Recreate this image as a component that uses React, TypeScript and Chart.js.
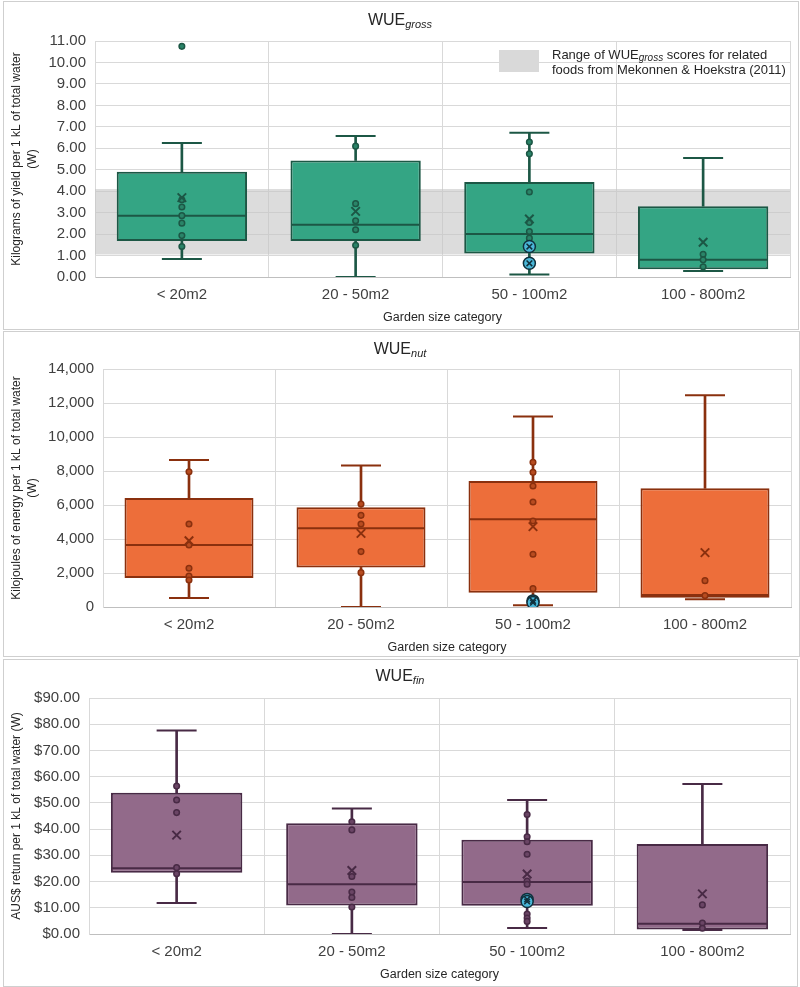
import React, { useEffect, useRef } from 'react';
import { Chart, registerables } from 'chart.js';

Chart.register(...registerables);

const FONT = "'Liberation Sans', Arial, sans-serif";

const CATEGORIES = ['< 20m2', '20 - 50m2', '50 - 100m2', '100 - 800m2'];
const X_TITLE = 'Garden size category';

// WUE gross (kg per kL)
const GROSS_MIN = [0.84, 0, 0.12, 0.28];
const GROSS_Q1 = [1.68, 1.68, 1.1, 0.36];
const GROSS_MEDIAN = [2.86, 2.43, 2.0, 0.8];
const GROSS_Q3 = [4.9, 5.43, 4.43, 3.3];
const GROSS_MAX = [6.25, 6.57, 6.72, 5.55];
const GROSS_MEAN = [3.7, 3.06, 2.7, 1.62];
const GROSS_POINTS = [
  [10.75, 3.6, 3.26, 2.86, 2.51, 1.93, 1.42],
  [6.1, 3.42, 2.62, 2.2, 1.48],
  [6.29, 5.74, 3.96, 2.54, 2.12, 1.81],
  [1.06, 0.8, 0.48],
];
const GROSS_HIGHLIGHT = [[], [], [1.42, 0.64], []];
const GROSS_BAND = [1.05, 4.1];

// WUE nut (kJ per kL)
const NUT_MIN = [530, 0, 100, 450];
const NUT_Q1 = [1700, 2330, 840, 550];
const NUT_MEDIAN = [3650, 4630, 5160, 710];
const NUT_Q3 = [6410, 5870, 7410, 6980];
const NUT_MAX = [8650, 8330, 11200, 12450];
const NUT_MEAN = [3900, 4330, 4730, 3200];
const NUT_POINTS = [
  [7960, 4880, 3650, 2280, 1820, 1590],
  [6060, 5390, 4880, 3260, 2020],
  [8510, 7920, 7120, 6180, 5060, 3100, 1080],
  [1550, 670],
];
const NUT_HIGHLIGHT = [[], [], [360, 260], []];

// WUE fin (AUS$ per kL)
const FIN_MIN = [11.8, 0, 2.3, 1.5];
const FIN_Q1 = [23.4, 10.9, 10.8, 1.7];
const FIN_MEDIAN = [25.1, 19.0, 19.8, 3.9];
const FIN_Q3 = [53.9, 42.2, 35.9, 34.3];
const FIN_MAX = [77.6, 47.9, 51.1, 57.2];
const FIN_MEAN = [37.7, 24.2, 22.9, 15.3];
const FIN_POINTS = [
  [56.4, 51.1, 46.3, 25.3, 23.0],
  [42.8, 39.7, 21.9, 16.0, 13.9, 10.3],
  [45.6, 37.1, 35.2, 30.4, 20.2, 19.0, 7.6, 6.1, 4.8],
  [11.1, 4.2, 2.2],
];
const FIN_HIGHLIGHT = [[], [], [13.2, 12.4], []];

const BOX_FRACTION = 0.75;

type Spec = {
  min: number[]; q1: number[]; median: number[]; q3: number[]; max: number[]; mean: number[];
  points: number[][]; highlight: number[][];
  fill: string; dark: string; dot: string;
  yMax: number; yStep: number; fmt: (v: number) => string; yTitle: string | string[];
  top: number; height: number; plotLeft: number; plotRight: number; padTop: number; padBottom: number;
  band?: number[];
};

const SPECS: Spec[] = [
  {
    min: GROSS_MIN, q1: GROSS_Q1, median: GROSS_MEDIAN, q3: GROSS_Q3, max: GROSS_MAX, mean: GROSS_MEAN,
    points: GROSS_POINTS, highlight: GROSS_HIGHLIGHT,
    fill: '#34a584', dark: '#1c5745', dot: '#2a8468',
    yMax: 11, yStep: 1, fmt: (v) => v.toFixed(2),
    yTitle: ['Kilograms of yield per 1 kL of total water', '(W)'],
    top: 0, height: 330, plotLeft: 95, plotRight: 790, padTop: 41, padBottom: 5, band: GROSS_BAND,
  },
  {
    min: NUT_MIN, q1: NUT_Q1, median: NUT_MEDIAN, q3: NUT_Q3, max: NUT_MAX, mean: NUT_MEAN,
    points: NUT_POINTS, highlight: NUT_HIGHLIGHT,
    fill: '#ed6e3a', dark: '#8a300e', dot: '#b84c20',
    yMax: 14000, yStep: 2000, fmt: (v) => v.toLocaleString('en-US'),
    yTitle: ['Kilojoules of energy per 1 kL of total water', '(W)'],
    top: 331, height: 326, plotLeft: 103, plotRight: 791, padTop: 38, padBottom: 2,
  },
  {
    min: FIN_MIN, q1: FIN_Q1, median: FIN_MEDIAN, q3: FIN_Q3, max: FIN_MAX, mean: FIN_MEAN,
    points: FIN_POINTS, highlight: FIN_HIGHLIGHT,
    fill: '#926a8a', dark: '#482a45', dot: '#6a4565',
    yMax: 90, yStep: 10, fmt: (v) => '$' + v.toFixed(2),
    yTitle: 'AUS$ return per 1 kL of total water (W)',
    top: 659, height: 328, plotLeft: 89, plotRight: 790, padTop: 39, padBottom: 5,
  },
];

const TITLES = [
  { main: 'WUE', sub: 'gross', y: 20 },
  { main: 'WUE', sub: 'nut', y: 349 },
  { main: 'WUE', sub: 'fin', y: 676 },
];

function buildDatasets(s: Spec): any[] {
  const toPts = (vals: number[]) => vals.map((v, i) => ({ x: CATEGORIES[i], y: v }));
  const flat = (groups: number[][]) => groups.flatMap((g, i) => g.map((v) => ({ x: CATEGORIES[i], y: v })));
  const medianRadius = (ctx: any) => {
    const xs = ctx.chart.scales.x;
    return xs && xs.width > 0 ? (xs.width / CATEGORIES.length) * BOX_FRACTION / 2 - 1 : 1;
  };
  const pointSet = (extra: any) => ({ type: 'line', showLine: false, pointHoverRadius: 0, ...extra });
  return [
    pointSet({
      label: 'highlight-x', data: flat(s.highlight), pointStyle: 'crossRot', pointRadius: 4,
      borderColor: '#10303c', pointBorderColor: '#10303c', pointBorderWidth: 1.5, order: 0,
    }),
    pointSet({
      label: 'highlight', data: flat(s.highlight), pointStyle: 'circle', pointRadius: 6,
      backgroundColor: '#4ab7d8', pointBackgroundColor: '#4ab7d8',
      borderColor: '#10303c', pointBorderColor: '#10303c', pointBorderWidth: 1.5, order: 1,
    }),
    pointSet({
      label: 'mean', data: toPts(s.mean), pointStyle: 'crossRot', pointRadius: 6,
      borderColor: s.dark, pointBorderColor: s.dark, pointBorderWidth: 2, order: 2,
    }),
    pointSet({
      label: 'points', data: flat(s.points), pointStyle: 'circle', pointRadius: 2.8,
      backgroundColor: s.dot, pointBackgroundColor: s.dot,
      borderColor: s.dark, pointBorderColor: s.dark, pointBorderWidth: 1.5, order: 3,
    }),
    pointSet({
      label: 'median', data: toPts(s.median), pointStyle: 'line', pointRadius: medianRadius,
      borderColor: s.dark, pointBorderColor: s.dark, pointBorderWidth: 2, order: 4,
    }),
    {
      type: 'bar', label: 'box', data: CATEGORIES.map((_, i) => [s.q1[i], s.q3[i]]),
      backgroundColor: s.fill, borderColor: s.dark, borderWidth: 2, borderSkipped: false,
      grouped: false, barPercentage: 1, categoryPercentage: BOX_FRACTION, order: 5,
    },
    pointSet({
      label: 'caps', data: [...toPts(s.max), ...toPts(s.min)], pointStyle: 'line', pointRadius: 20,
      borderColor: s.dark, pointBorderColor: s.dark, pointBorderWidth: 2, order: 6,
    }),
    {
      type: 'bar', label: 'upper whisker', data: CATEGORIES.map((_, i) => [s.q3[i], s.max[i]]),
      backgroundColor: s.dark, borderWidth: 0, barThickness: 2, grouped: false, order: 7,
    },
    {
      type: 'bar', label: 'lower whisker', data: CATEGORIES.map((_, i) => [s.min[i], s.q1[i]]),
      backgroundColor: s.dark, borderWidth: 0, barThickness: 2, grouped: false, order: 8,
    },
  ];
}

function Panel({ spec }: { spec: Spec }) {
  const ref = useRef<HTMLCanvasElement | null>(null);
  useEffect(() => {
    if (!ref.current) return;
    const bandPlugin = {
      id: 'band',
      beforeDatasetsDraw(chart: any) {
        if (!spec.band) return;
        const { ctx, chartArea, scales } = chart;
        const yTop = scales.y.getPixelForValue(spec.band[1]);
        const yBot = scales.y.getPixelForValue(spec.band[0]);
        ctx.save();
        ctx.fillStyle = 'rgba(196,196,196,0.6)';
        ctx.fillRect(chartArea.left, yTop, chartArea.right - chartArea.left, yBot - yTop);
        ctx.restore();
      },
    };
    const chart = new Chart(ref.current, {
      type: 'bar',
      data: { labels: CATEGORIES, datasets: buildDatasets(spec) },
      options: {
        responsive: false,
        devicePixelRatio: 1,
        animation: false,
        events: [],
        layout: {
          autoPadding: false,
          padding: { top: spec.padTop, right: 800 - spec.plotRight, bottom: spec.padBottom, left: 0 },
        },
        plugins: { legend: { display: false }, tooltip: { enabled: false }, title: { display: false } },
        scales: {
          x: {
            type: 'category',
            labels: CATEGORIES,
            offset: true,
            grid: { color: '#d9d9d9', drawTicks: false, offset: true },
            border: { color: '#bfbfbf' },
            ticks: { font: { size: 15, family: FONT }, color: '#404040', padding: 9 },
            title: {
              display: true, text: X_TITLE, color: '#262626',
              font: { size: 12.5, family: FONT, lineHeight: 1.2 }, padding: { top: 0, bottom: 0 },
            },
            afterFit: (sc: any) => { sc.height = 48; sc.paddingLeft = 0; sc.paddingRight = 0; },
          },
          y: {
            min: 0,
            max: spec.yMax,
            grid: { color: '#d9d9d9', drawTicks: false },
            border: { color: '#d9d9d9' },
            ticks: {
              stepSize: spec.yStep,
              font: { size: 15, family: FONT },
              color: '#404040',
              padding: 9,
              callback: (v: any) => spec.fmt(Number(v)),
            },
            title: {
              display: true, text: spec.yTitle, color: '#262626',
              font: { size: 12, family: FONT, lineHeight: 1.33 }, padding: { top: 9, bottom: 0 },
            },
            afterFit: (sc: any) => { sc.width = spec.plotLeft; },
          },
        },
      } as any,
      plugins: [bandPlugin],
    });
    return () => chart.destroy();
  }, [spec]);
  return (
    <canvas
      ref={ref}
      width={800}
      height={spec.height}
      style={{ position: 'absolute', left: 0, top: spec.top, width: 800, height: spec.height }}
    />
  );
}

const BORDERS = [
  { left: 3, top: 1, width: 796, height: 329 },
  { left: 3, top: 331, width: 797, height: 326 },
  { left: 3, top: 659, width: 795, height: 328 },
];

export default function App() {
  useEffect(() => {
    document.body.style.margin = '0';
  }, []);
  return (
    <div style={{ position: 'absolute', left: 0, top: 0, width: 800, height: 987, background: '#fff', overflow: 'hidden', fontFamily: FONT }}>
      {BORDERS.map((b, i) => (
        <div key={'b' + i} style={{ position: 'absolute', left: b.left, top: b.top, width: b.width - 2, height: b.height - 2, border: '1px solid #cfcfcf' }} />
      ))}
      {SPECS.map((s, i) => <Panel key={i} spec={s} />)}
      {TITLES.map((t, i) => (
        <div key={'t' + i} style={{ position: 'absolute', left: 0, width: 800, top: t.y - 10, height: 20, lineHeight: '20px', textAlign: 'center', fontSize: 16, color: '#262626', whiteSpace: 'nowrap' }}>
          {t.main}<sub style={{ fontStyle: 'italic', fontSize: 11, verticalAlign: '-3px' }}>{t.sub}</sub>
        </div>
      ))}
      <div style={{ position: 'absolute', left: 499, top: 50, width: 40, height: 22, background: '#d9d9d9' }} />
      <div style={{ position: 'absolute', left: 552, top: 47, fontSize: 13, lineHeight: '15px', color: '#262626', whiteSpace: 'nowrap' }}>
        <div>Range of WUE<sub style={{ fontStyle: 'italic', fontSize: 10, verticalAlign: '-2px', lineHeight: 0 }}>gross</sub> scores for related</div>
        <div>foods from Mekonnen &amp; Hoekstra (2011)</div>
      </div>
    </div>
  );
}
